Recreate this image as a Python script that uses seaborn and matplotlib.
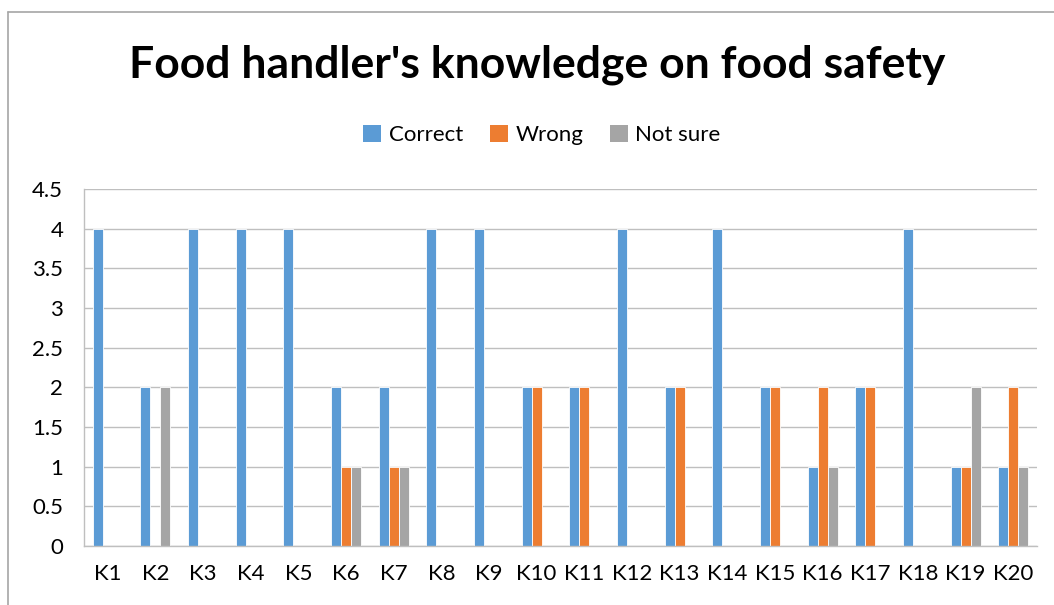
import matplotlib
matplotlib.use("Agg")
import matplotlib.pyplot as plt
import seaborn as sns
import pandas as pd
import numpy as np
from matplotlib.lines import Line2D
from matplotlib.patches import Patch

categories = [f"K{i}" for i in range(1, 21)]
correct = [4, 2, 4, 4, 4, 2, 2, 4, 4, 2, 2, 4, 2, 4, 2, 1, 2, 4, 1, 1]
wrong = [0, 0, 0, 0, 0, 1, 1, 0, 0, 2, 2, 0, 2, 0, 2, 2, 2, 0, 1, 2]
not_sure = [0, 2, 0, 0, 0, 1, 1, 0, 0, 0, 0, 0, 0, 0, 0, 1, 0, 0, 2, 1]
series_names = ["Correct", "Wrong", "Not sure"]
colors = ["#5B9BD5", "#ED7D31", "#A5A5A5"]

df = pd.DataFrame({
    "cat": categories * 3,
    "series": sum([[s] * len(categories) for s in series_names], []),
    "value": correct + wrong + not_sure,
})

sns.set_theme(style="white")
plt.rcParams["font.family"] = ["Lato", "DejaVu Sans"]
plt.rcParams["text.color"] = "black"

fig = plt.figure(figsize=(10.54, 6.05), dpi=100)
ax = fig.add_axes([84/1054, 1 - 546/605, (1037 - 84)/1054, (546 - 189)/605])

sns.barplot(data=df, x="cat", y="value", hue="series", hue_order=series_names,
            palette=colors, width=0.63, ax=ax, legend=False, saturation=1,
            edgecolor="white", linewidth=0.6)

ax.set_ylim(0, 4.5)
ax.set_xlim(-0.5, len(categories) - 0.5)
ax.set_yticks(np.arange(0, 4.51, 0.5))
ax.set_yticklabels(["0", "0.5", "1", "1.5", "2", "2.5", "3", "3.5", "4", "4.5"])
ax.set_xlabel("")
ax.set_ylabel("")
ax.yaxis.grid(True, color="#BFBFBF", linewidth=1)
ax.set_axisbelow(True)
for s in ["top", "right"]:
    ax.spines[s].set_visible(False)
for s in ["left", "bottom"]:
    ax.spines[s].set_color("#BFBFBF")
    ax.spines[s].set_linewidth(1)
ax.tick_params(axis="y", length=8, color="#BFBFBF", width=1, labelsize=16, pad=7,
               labelcolor="black")
ax.set_xticks(np.arange(-0.5, len(categories), 1), minor=True)
ax.tick_params(axis="x", which="minor", length=8, color="#BFBFBF", width=1)
ax.tick_params(axis="x", which="major", length=0, labelsize=16, pad=13, labelcolor="black")

fig.text(0.510, 1 - 65/605, "Food handler's knowledge on food safety",
         ha="center", va="center", fontsize=32, fontweight="bold", color="black")

handles = [Patch(facecolor=c, edgecolor="none") for c in colors]
fig.legend(handles, series_names, loc="center", bbox_to_anchor=(542/1054, 1 - 135/605),
           ncol=3, frameon=False, fontsize=16, handlelength=0.8, handleheight=0.8,
           columnspacing=1.2, handletextpad=0.35, labelcolor="black")

# chart border (left and top visible)
fig.add_artist(Line2D([8/1054, 8/1054], [0, 1 - 12/605], transform=fig.transFigure,
                      color="#A6A6A6", linewidth=1.2))
fig.add_artist(Line2D([8/1054, 1], [1 - 12/605, 1 - 12/605], transform=fig.transFigure,
                      color="#A6A6A6", linewidth=1.2))

fig.savefig("out.png", dpi=100)
